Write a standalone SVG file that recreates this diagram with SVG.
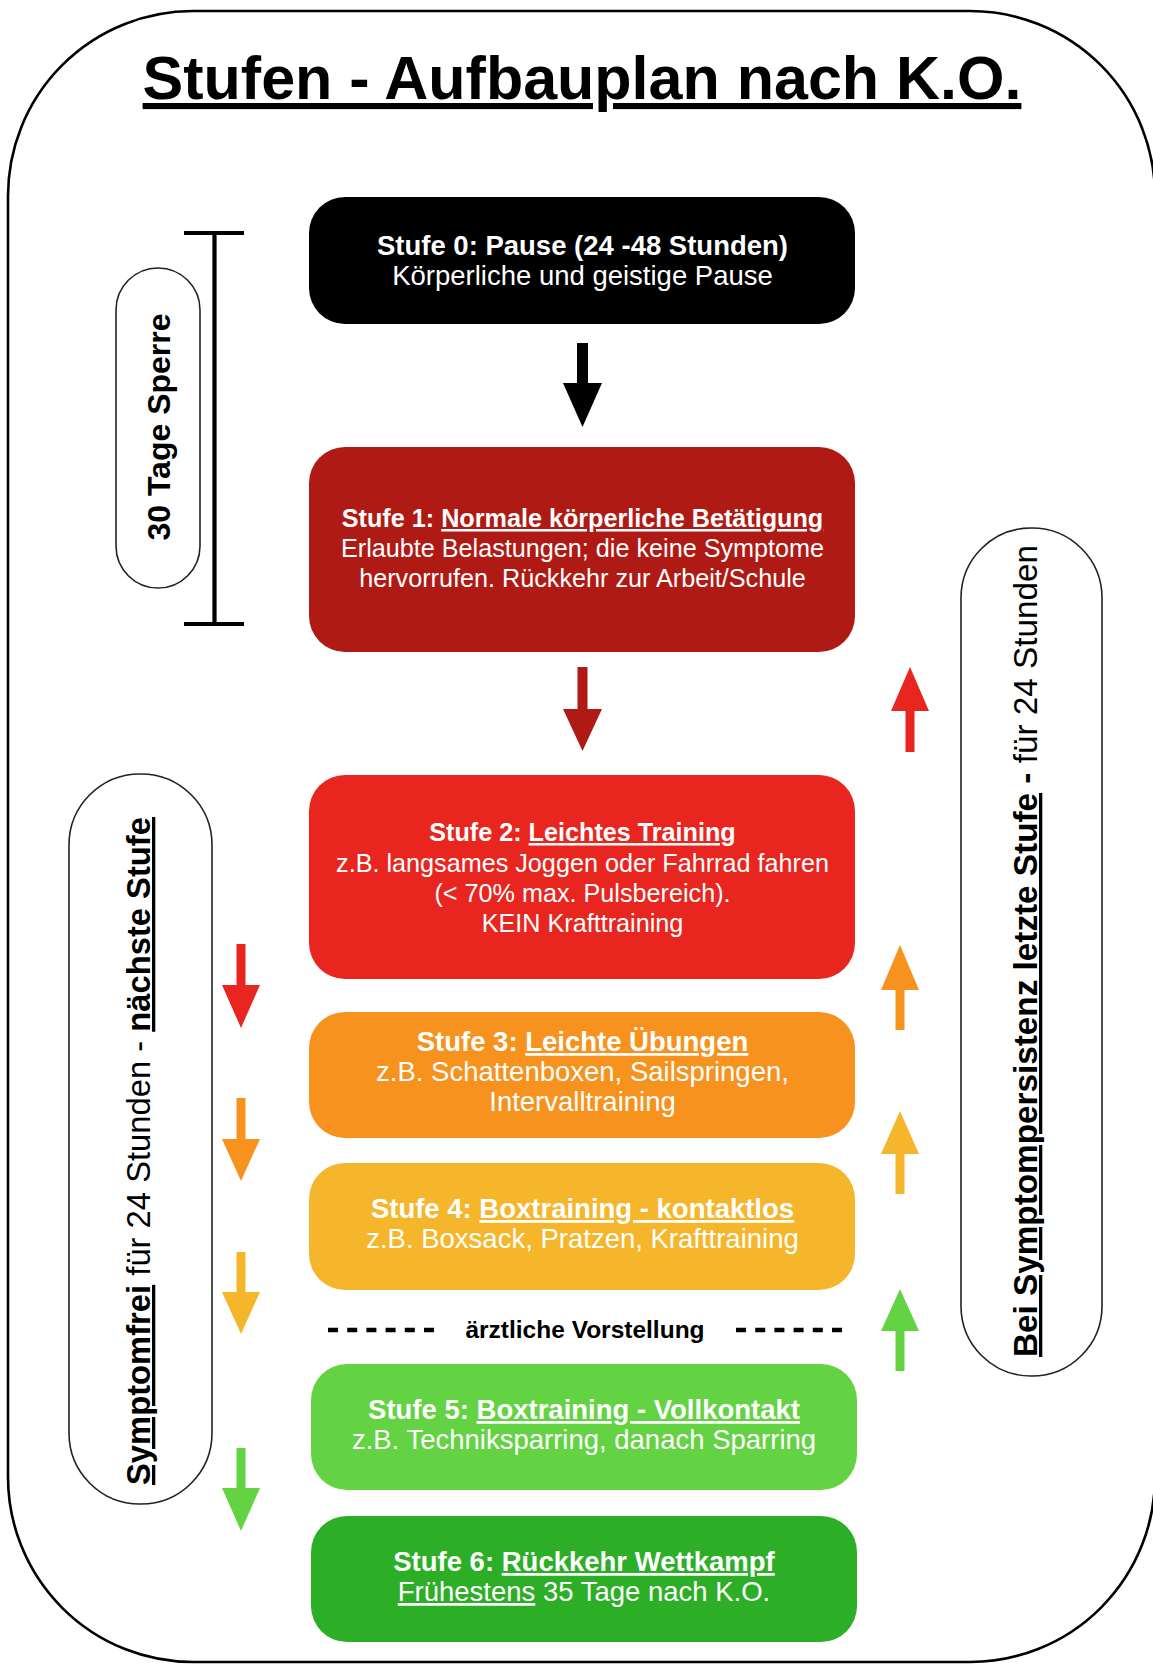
<svg xmlns="http://www.w3.org/2000/svg" width="1153" height="1664" viewBox="0 0 1153 1664">
<style>
text{font-family:"Liberation Sans",Arial,Helvetica,sans-serif}
.box{stroke:none}
.wt{fill:#ffffff;text-anchor:middle}
.big{font-size:27.5px}
.sm{font-size:25.2px}
.b{font-weight:bold}
.u{text-decoration:underline}
.pill{fill:#ffffff;stroke:#222222;stroke-width:1.6}
.side{font-size:33px;fill:#000000;text-anchor:middle}
</style>
<rect width="1153" height="1664" fill="#ffffff"/>
<rect id="frame" x="8" y="11" width="1147" height="1651" rx="185" ry="185" fill="none" stroke="#000000" stroke-width="2.6"/>
<g id="title">
<text x="582" y="99" font-size="61" font-weight="bold" text-anchor="middle" text-decoration="underline" fill="#000000">Stufen - Aufbauplan nach K.O.</text>
</g>
<g id="sperre">
<g stroke="#000000" stroke-width="4.2" fill="none">
<line x1="214.5" y1="233" x2="214.5" y2="624"/>
<line x1="184" y1="233" x2="244" y2="233"/>
<line x1="184" y1="624" x2="244" y2="624"/>
</g>
<rect class="pill" x="116" y="268" width="84" height="320" rx="42"/>
<text transform="translate(170,427) rotate(-90)" font-size="32" font-weight="bold" text-anchor="middle" fill="#000000">30 Tage Sperre</text>
</g>
<g id="stufe0">
<rect class="box" x="309" y="197" width="546" height="127" rx="36" fill="#000000"/>
<text class="wt big" x="582.5" y="255"><tspan class="b">Stufe 0: Pause (24 -48 Stunden)</tspan></text>
<text class="wt big" x="582.5" y="285">Körperliche und geistige Pause</text>
</g>
<g id="stufe1">
<rect class="box" x="309" y="447" width="546" height="205" rx="36" fill="#AF1B14"/>
<text class="wt sm" x="582.5" y="527"><tspan class="b">Stufe 1: </tspan><tspan class="b u">Normale körperliche Betätigung</tspan></text>
<text class="wt sm" x="582.5" y="557">Erlaubte Belastungen; die keine Symptome</text>
<text class="wt sm" x="582.5" y="587">hervorrufen. Rückkehr zur Arbeit/Schule</text>
</g>
<g id="stufe2">
<rect class="box" x="309" y="775" width="546" height="204" rx="36" fill="#E8261F"/>
<text class="wt sm" x="582.5" y="841"><tspan class="b">Stufe 2: </tspan><tspan class="b u">Leichtes Training</tspan></text>
<text class="wt sm" x="582.5" y="872">z.B. langsames Joggen oder Fahrrad fahren</text>
<text class="wt sm" x="582.5" y="902">(&lt; 70% max. Pulsbereich).</text>
<text class="wt sm" x="582.5" y="932">KEIN Krafttraining</text>
</g>
<g id="stufe3">
<rect class="box" x="309" y="1012" width="546" height="126" rx="36" fill="#F7921E"/>
<text class="wt big" x="582.5" y="1051"><tspan class="b">Stufe 3: </tspan><tspan class="b u">Leichte Übungen</tspan></text>
<text class="wt big" x="582.5" y="1081">z.B. Schattenboxen, Sailspringen,</text>
<text class="wt big" x="582.5" y="1111">Intervalltraining</text>
</g>
<g id="stufe4">
<rect class="box" x="309" y="1163" width="546" height="127" rx="36" fill="#F5B62B"/>
<text class="wt big" x="582.5" y="1218"><tspan class="b">Stufe 4: </tspan><tspan class="b u">Boxtraining - kontaktlos</tspan></text>
<text class="wt big" x="582.5" y="1248">z.B. Boxsack, Pratzen, Krafttraining</text>
</g>
<g id="vorstellung">
<g stroke="#000000" stroke-width="4.5" stroke-dasharray="10 9.2" fill="none">
<line x1="328" y1="1330" x2="434" y2="1330"/>
<line x1="736" y1="1330" x2="842" y2="1330"/>
</g>
<text x="585" y="1338" font-size="24.5" font-weight="bold" text-anchor="middle" fill="#000000">ärztliche Vorstellung</text>
</g>
<g id="stufe5">
<rect class="box" x="311" y="1364" width="546" height="126" rx="36" fill="#63D343"/>
<text class="wt big" x="584" y="1419"><tspan class="b">Stufe 5: </tspan><tspan class="b u">Boxtraining - Vollkontakt</tspan></text>
<text class="wt big" x="584" y="1449">z.B. Techniksparring, danach Sparring</text>
</g>
<g id="stufe6">
<rect class="box" x="311" y="1516" width="546" height="126" rx="36" fill="#2CAE27"/>
<text class="wt big" x="584" y="1571"><tspan class="b">Stufe 6: </tspan><tspan class="b u">Rückkehr Wettkampf</tspan></text>
<text class="wt big" x="584" y="1601"><tspan class="u">Frühestens</tspan> 35 Tage nach K.O.</text>
</g>
<g id="symptomfrei">
<rect class="pill" x="69" y="774" width="143" height="730" rx="71"/>
<text class="side" transform="translate(150,1151) rotate(-90)" textLength="668" lengthAdjust="spacingAndGlyphs"><tspan class="b u">Symptomfrei</tspan> für 24 Stunden - <tspan class="b u">nächste Stufe</tspan></text>
</g>
<g id="symptompersistenz">
<rect class="pill" x="961" y="528" width="141" height="848" rx="70"/>
<text class="side" transform="translate(1037,951) rotate(-90)" textLength="812" lengthAdjust="spacingAndGlyphs"><tspan class="b u">Bei Symptompersistenz letzte Stufe</tspan><tspan class="b"> - </tspan> für 24 Stunden</text>
</g>
<g id="connectors">
<path d="M577,343 L588,343 L588,383 L602,383 L582.5,427 L563,383 L577,383 Z" fill="#000000"/>
<path d="M577.5,667 L587.5,667 L587.5,709 L602,709 L582.5,751 L563,709 L577.5,709 Z" fill="#AF1B14"/>
<path d="M236.5,944 L245.5,944 L245.5,985 L260,985 L241,1028 L222,985 L236.5,985 Z" fill="#E8261F"/>
<path d="M236.5,1098 L245.5,1098 L245.5,1139 L260,1139 L241,1181 L222,1139 L236.5,1139 Z" fill="#F7921E"/>
<path d="M236.5,1252 L245.5,1252 L245.5,1292 L260,1292 L241,1334 L222,1292 L236.5,1292 Z" fill="#F5B62B"/>
<path d="M236.5,1448 L245.5,1448 L245.5,1488 L260,1488 L241,1531 L222,1488 L236.5,1488 Z" fill="#63D343"/>
<path d="M910,667 L929,711 L914.5,711 L914.5,752 L905.5,752 L905.5,711 L891,711 Z" fill="#E8261F"/>
<path d="M900,945 L919,990 L904.5,990 L904.5,1030 L895.5,1030 L895.5,990 L881,990 Z" fill="#F7921E"/>
<path d="M900,1111 L919,1154 L904.5,1154 L904.5,1194 L895.5,1194 L895.5,1154 L881,1154 Z" fill="#F5B62B"/>
<path d="M900,1289 L919,1331 L904.5,1331 L904.5,1371 L895.5,1371 L895.5,1331 L881,1331 Z" fill="#63D343"/>
</g>
</svg>
